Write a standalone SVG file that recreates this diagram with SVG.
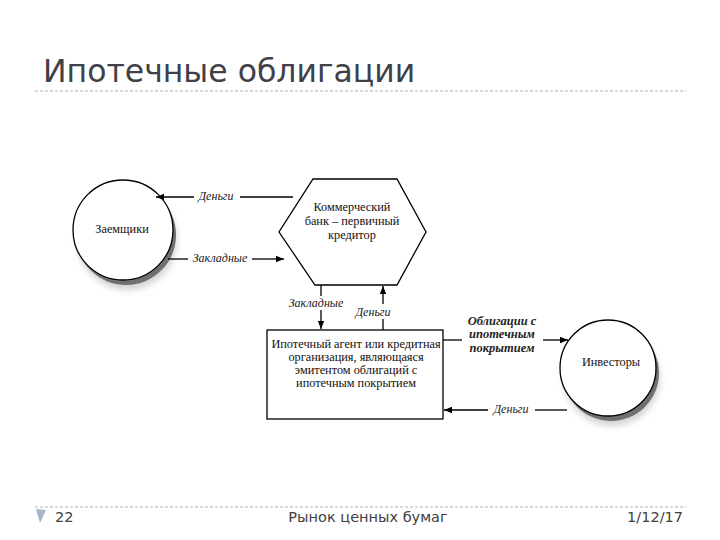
<svg xmlns="http://www.w3.org/2000/svg" width="720" height="540" viewBox="0 0 720 540">
<defs>
<marker id="ah" viewBox="0 0 10 10" refX="10" refY="5" markerWidth="8" markerHeight="8" markerUnits="userSpaceOnUse" orient="auto">
<path d="M0,1 L10,5 L0,9 Z" fill="#000"/>
</marker>
<filter id="blur" x="-30%" y="-30%" width="160%" height="160%"><feGaussianBlur stdDeviation="3"/></filter>
</defs>
<style>
.title{font-family:"DejaVu Sans",sans-serif;font-size:31.5px;fill:#404048}
.foot{font-family:"DejaVu Sans",sans-serif;font-size:14.5px;fill:#404040}
.dash{stroke:#b4b4b4;stroke-width:1;stroke-dasharray:3,2;fill:none}
.t{font-family:"Liberation Serif",serif;font-size:12.3px;fill:#111;text-anchor:middle}
.lb{font-family:"Liberation Serif",serif;font-size:12px;font-style:italic;fill:#222;text-anchor:middle}
.lbb{font-family:"Liberation Serif",serif;font-size:12.5px;font-style:italic;font-weight:bold;fill:#222;text-anchor:middle}
.ln{stroke:#000;stroke-width:1.3;fill:none}
.shape{fill:#fff;stroke:#000;stroke-width:1.3}
</style>
<rect width="720" height="540" fill="#fff"/>
<text class="title" x="43" y="82">Ипотечные облигации</text>
<line class="dash" x1="35" y1="91" x2="686" y2="91"/>

<g id="zaemshiki">
<circle cx="127" cy="240" r="50" fill="#d4d4d4" filter="url(#blur)"/>
<circle cx="126" cy="235" r="50" fill="#707070"/>
<circle class="shape" cx="123" cy="230" r="50"/>
<text class="t" x="122" y="233">Заемщики</text>
</g>

<g id="bank">
<polygon class="shape" points="313,179 397,179 426,232 397,285 315,285 279,232"/>
<text class="t" x="352" y="211">Коммерческий</text>
<text class="t" x="352" y="225">банк – первичный</text>
<text class="t" x="352" y="239">кредитор</text>
</g>

<g id="agent">
<rect class="shape" x="267" y="330" width="176" height="89"/>
<text class="t" x="356" y="348">Ипотечный агент или кредитная</text>
<text class="t" x="356" y="361">организация, являющаяся</text>
<text class="t" x="356" y="374">эмитентом облигаций с</text>
<text class="t" x="356" y="387">ипотечным покрытием</text>
</g>

<g id="investors">
<circle cx="612" cy="378" r="48" fill="#d4d4d4" filter="url(#blur)"/>
<circle cx="611" cy="373" r="48" fill="#707070"/>
<circle class="shape" cx="608" cy="368" r="48"/>
<text class="t" x="611" y="366">Инвесторы</text>
</g>

<g id="connectors">
<line class="ln" x1="293" y1="197" x2="240" y2="197"/>
<line class="ln" x1="194" y1="197" x2="156" y2="197" marker-end="url(#ah)"/>
<text class="lb" x="216" y="200">Деньги</text>

<line class="ln" x1="168" y1="259" x2="188" y2="259"/>
<line class="ln" x1="252" y1="259" x2="284" y2="259" marker-end="url(#ah)"/>
<text class="lb" x="220" y="262">Закладные</text>

<line class="ln" x1="321" y1="285" x2="321" y2="296"/>
<line class="ln" x1="321" y1="310" x2="321" y2="329" marker-end="url(#ah)"/>
<text class="lb" x="316" y="307">Закладные</text>

<line class="ln" x1="383" y1="330" x2="383" y2="319"/>
<line class="ln" x1="383" y1="304" x2="383" y2="286" marker-end="url(#ah)"/>
<text class="lb" x="373" y="316">Деньги</text>

<line class="ln" x1="443" y1="340" x2="462" y2="340"/>
<line class="ln" x1="543" y1="340" x2="568" y2="340" marker-end="url(#ah)"/>
<text class="lbb" x="502" y="325">Облигации с</text>
<text class="lbb" x="502" y="338">ипотечным</text>
<text class="lbb" x="502" y="352">покрытием</text>

<line class="ln" x1="567" y1="410" x2="535" y2="410"/>
<line class="ln" x1="488" y1="410" x2="444" y2="410" marker-end="url(#ah)"/>
<text class="lb" x="511" y="413">Деньги</text>
</g>

<line class="dash" x1="35" y1="507" x2="686" y2="507"/>
<polygon points="36,509 46,510 40,523" fill="#a8b4c8"/>
<text class="foot" x="55" y="522">22</text>
<text class="foot" x="368" y="522" text-anchor="middle">Рынок ценных бумаг</text>
<text class="foot" x="683" y="522" text-anchor="end">1/12/17</text>
</svg>
